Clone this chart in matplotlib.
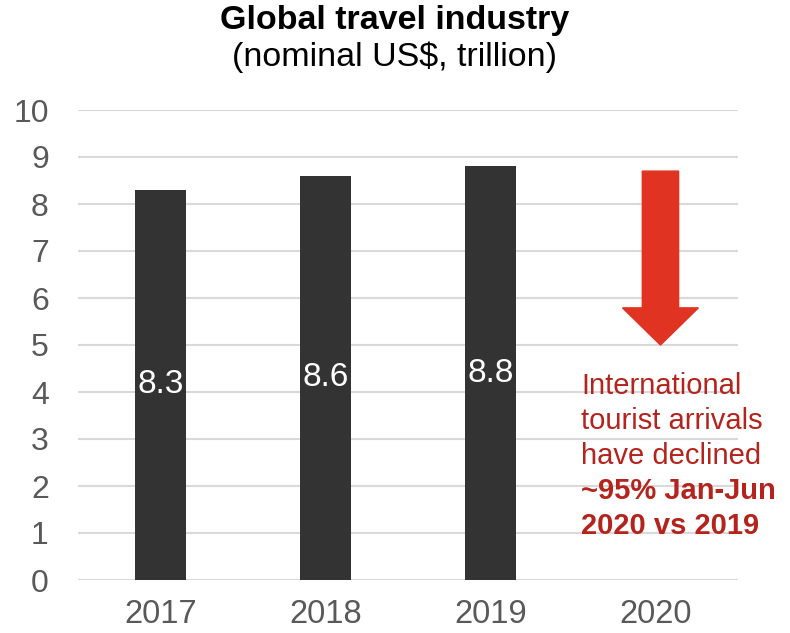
import matplotlib.pyplot as plt

plt.rcParams["font.family"] = ["Liberation Sans", "DejaVu Sans"]

# data
years = ["2017", "2018", "2019", "2020"]
values = [8.3, 8.6, 8.8]
yticks = list(range(0, 11))
arrow_top = 8.7
arrow_tip = 5.0
note_lines = ["International", "tourist arrivals", "have declined",
              "~95% Jan-Jun", "2020 vs 2019"]

bar_color = "#333333"
grid_color = "#D9D9D9"
tick_color = "#595959"
arrow_color = "#E03322"
note_color = "#B4231C"

fig = plt.figure(figsize=(7.9, 6.33), dpi=100)
ax = fig.add_axes([78 / 790, 1 - 580 / 633, 660 / 790, 470 / 633])

x = list(range(len(years)))
ax.bar(x[:len(values)], values, width=0.315, color=bar_color, zorder=3)
for xi, v in zip(x, values):
    ax.text(xi, v / 2, f"{v:.1f}", color="white", fontsize=24,
            ha="center", va="center", zorder=4)

# arrow for 2020
ax.arrow(3.03, arrow_top, 0, arrow_tip - arrow_top, width=0.22,
         head_width=0.46, head_length=0.79, length_includes_head=True,
         color=arrow_color, zorder=3)

# note text
y0 = 4.13
step = 0.745
for i, line in enumerate(note_lines):
    ax.text(2.55, y0 - i * step, line, color=note_color, fontsize=21,
            fontweight="bold" if i >= 3 else "normal",
            ha="left", va="center", zorder=4)

ax.set_xlim(-0.5, 3.5)
ax.set_ylim(0, 10)
ax.set_yticks(yticks)
ax.set_xticks(x)
ax.set_xticklabels(years)
ax.yaxis.grid(True, color=grid_color, linewidth=1.5, zorder=0)
ax.set_axisbelow(True)
for s in ax.spines.values():
    s.set_visible(False)
ax.tick_params(axis="y", length=0, pad=21, labelsize=23, labelcolor=tick_color)
ax.tick_params(axis="x", length=0, pad=14, labelsize=23.5, labelcolor=tick_color)

fig.text(0.5, 1 - 21 / 633, "Global travel industry", ha="center", va="center",
         fontsize=24.5, fontweight="bold", color="black")
fig.text(0.5, 1 - 57 / 633, "(nominal US$, trillion)", ha="center", va="center",
         fontsize=24.5, color="black")

fig.savefig("out.png", dpi=100)
